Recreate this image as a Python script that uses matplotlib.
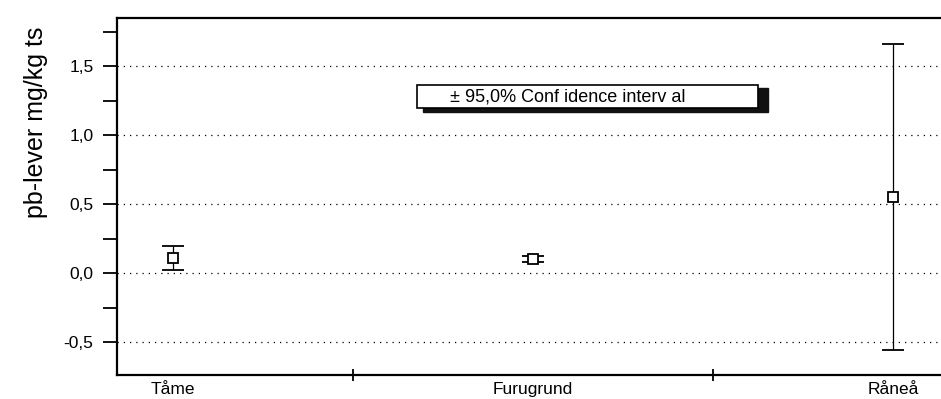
import numpy as np
import matplotlib
matplotlib.use("Agg")
import matplotlib.pyplot as plt
from matplotlib.patches import Rectangle
from matplotlib.ticker import MultipleLocator, FixedLocator, FuncFormatter

plt.rcParams['font.family'] = ['Liberation Sans', 'DejaVu Sans']

# data
sites = ['Tåme', 'Furugrund', 'Råneå']
means = [0.11, 0.10, 0.55]
upper = [0.195, 0.125, 1.66]
lower = [0.02, 0.077, -0.555]
legend_text = '± 95,0% Conf idence interv al'
y_label = 'pb-lever mg/kg ts'

x = np.arange(len(sites))
means = np.array(means)
err = [means - np.array(lower), np.array(upper) - means]

fig = plt.figure(figsize=(9.41, 3.99), dpi=100)
# axes runs off the right edge, like the scan
ax = fig.add_axes([117 / 941, 24 / 399, 884 / 941, 357 / 399])

ax.errorbar(x, means, yerr=err, fmt='s', mfc='white', mec='black', mew=1.3,
            ms=7, ecolor='black', elinewidth=0.9, capsize=8, capthick=1.1,
            zorder=3)

ax.set_xlim(-0.156, 2.3)
ax.set_ylim(-0.739, 1.848)

# y axis
ax.yaxis.set_major_locator(MultipleLocator(0.5))
ax.yaxis.set_minor_locator(MultipleLocator(0.25))
ax.yaxis.set_major_formatter(FuncFormatter(lambda v, p: f'{v:.1f}'.replace('.', ',')))
ax.tick_params(axis='y', which='both', direction='out', length=10, width=1.3,
               labelsize=12.5, pad=7)
ax.grid(axis='y', which='major', linestyle=(0, (1, 4)), color='black',
        linewidth=0.9)

# x axis: labels at sites, crossing ticks between them
ax.set_xticks(x)
ax.set_xticklabels(sites)
ax.xaxis.set_minor_locator(FixedLocator([0.5, 1.5]))
ax.tick_params(axis='x', which='major', length=0, labelsize=12.5, pad=5)
ax.tick_params(axis='x', which='minor', direction='inout', length=8, width=1.3)

for s in ['left', 'bottom', 'top']:
    ax.spines[s].set_linewidth(1.6)
ax.spines['right'].set_visible(False)

ax.set_ylabel(y_label, fontsize=18)
ax.yaxis.set_label_coords(-69 / 884, (375 - 122) / 357)

# legend-like box with shadow, placed in figure pixels
tr = fig.transFigure
W, H = 941, 399
fig.patches.append(Rectangle((423 / W, (399 - 112) / H), 345 / W, 24 / H,
                             transform=tr, facecolor='#111111', edgecolor='#111111',
                             zorder=4))
fig.patches.append(Rectangle((417 / W, (399 - 108) / H), 341 / W, 23 / H,
                             transform=tr, facecolor='white', edgecolor='black',
                             linewidth=1.2, zorder=5))
fig.text(450 / W, (399 - 96.5) / H, legend_text, fontsize=13, va='center',
         ha='left', zorder=6)

fig.savefig('out.png', dpi=100)
